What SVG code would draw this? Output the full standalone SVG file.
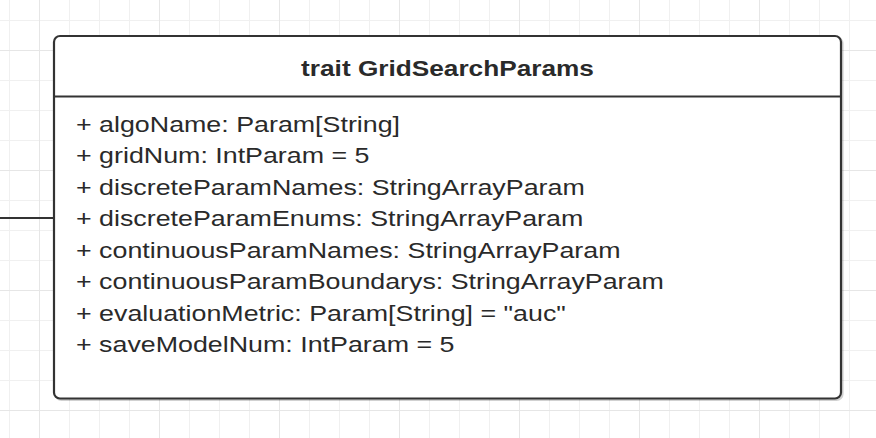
<svg xmlns="http://www.w3.org/2000/svg" width="876" height="438" viewBox="0 0 876 438">
  <defs>
    <pattern id="gridMinor" x="9" y="20" width="30" height="30" patternUnits="userSpaceOnUse">
      <path d="M0 0.5 H30 M0.5 0 V30" fill="none" stroke="#f0f0f0" stroke-width="1"/>
    </pattern>
    <pattern id="gridMajor" x="39" y="50" width="120" height="120" patternUnits="userSpaceOnUse">
      <path d="M0 0.5 H120 M0.5 0 V120" fill="none" stroke="#e6e6e6" stroke-width="1"/>
    </pattern>
  </defs>
  <style>
    .frame { fill: #ffffff; stroke: #333333; stroke-width: 2.2; }
    .shadow { fill: none; stroke: #000000; stroke-opacity: 0.18; stroke-width: 2.2; }
    .edge { fill: none; stroke: #333333; stroke-width: 2; }
    .title { font-family: "Liberation Sans", Arial, sans-serif; font-size: 21.5px; font-weight: bold; fill: #2a2a2a; }
    .attr { font-family: "Liberation Sans", Arial, sans-serif; font-size: 22px; fill: #2a2a2a; }
  </style>

  <!-- canvas grid -->
  <rect width="876" height="438" fill="#ffffff"/>
  <rect width="876" height="438" fill="url(#gridMinor)"/>
  <rect width="876" height="438" fill="url(#gridMajor)"/>

  <!-- connectors -->
  <g id="connectors">
    <line class="edge" x1="0" y1="218" x2="54" y2="218"/>
  </g>

  <!-- class node -->
  <g id="trait-GridSearchParams">
    <rect class="shadow" x="55.5" y="37.5" width="787" height="362.5" rx="6"/>
    <rect class="frame" x="54" y="36" width="787" height="362.5" rx="6"/>
    <line class="edge" x1="54" y1="96.5" x2="841" y2="96.5" stroke-width="2.2"/>
    <g transform="translate(447.5 0) scale(1.219 1)">
      <text class="title" x="0" y="76" text-anchor="middle">trait GridSearchParams</text>
    </g>
    <g transform="translate(76 0) scale(1.219 1)">
      <text class="attr" x="0" y="132">+ algoName: Param[String]</text>
      <text class="attr" x="0" y="163.5">+ gridNum: IntParam = 5</text>
      <text class="attr" x="0" y="195">+ discreteParamNames: StringArrayParam</text>
      <text class="attr" x="0" y="226.5">+ discreteParamEnums: StringArrayParam</text>
      <text class="attr" x="0" y="258">+ continuousParamNames: StringArrayParam</text>
      <text class="attr" x="0" y="289.5">+ continuousParamBoundarys: StringArrayParam</text>
      <text class="attr" x="0" y="321">+ evaluationMetric: Param[String] = "auc"</text>
      <text class="attr" x="0" y="352.5">+ saveModelNum: IntParam = 5</text>
    </g>
  </g>
</svg>
